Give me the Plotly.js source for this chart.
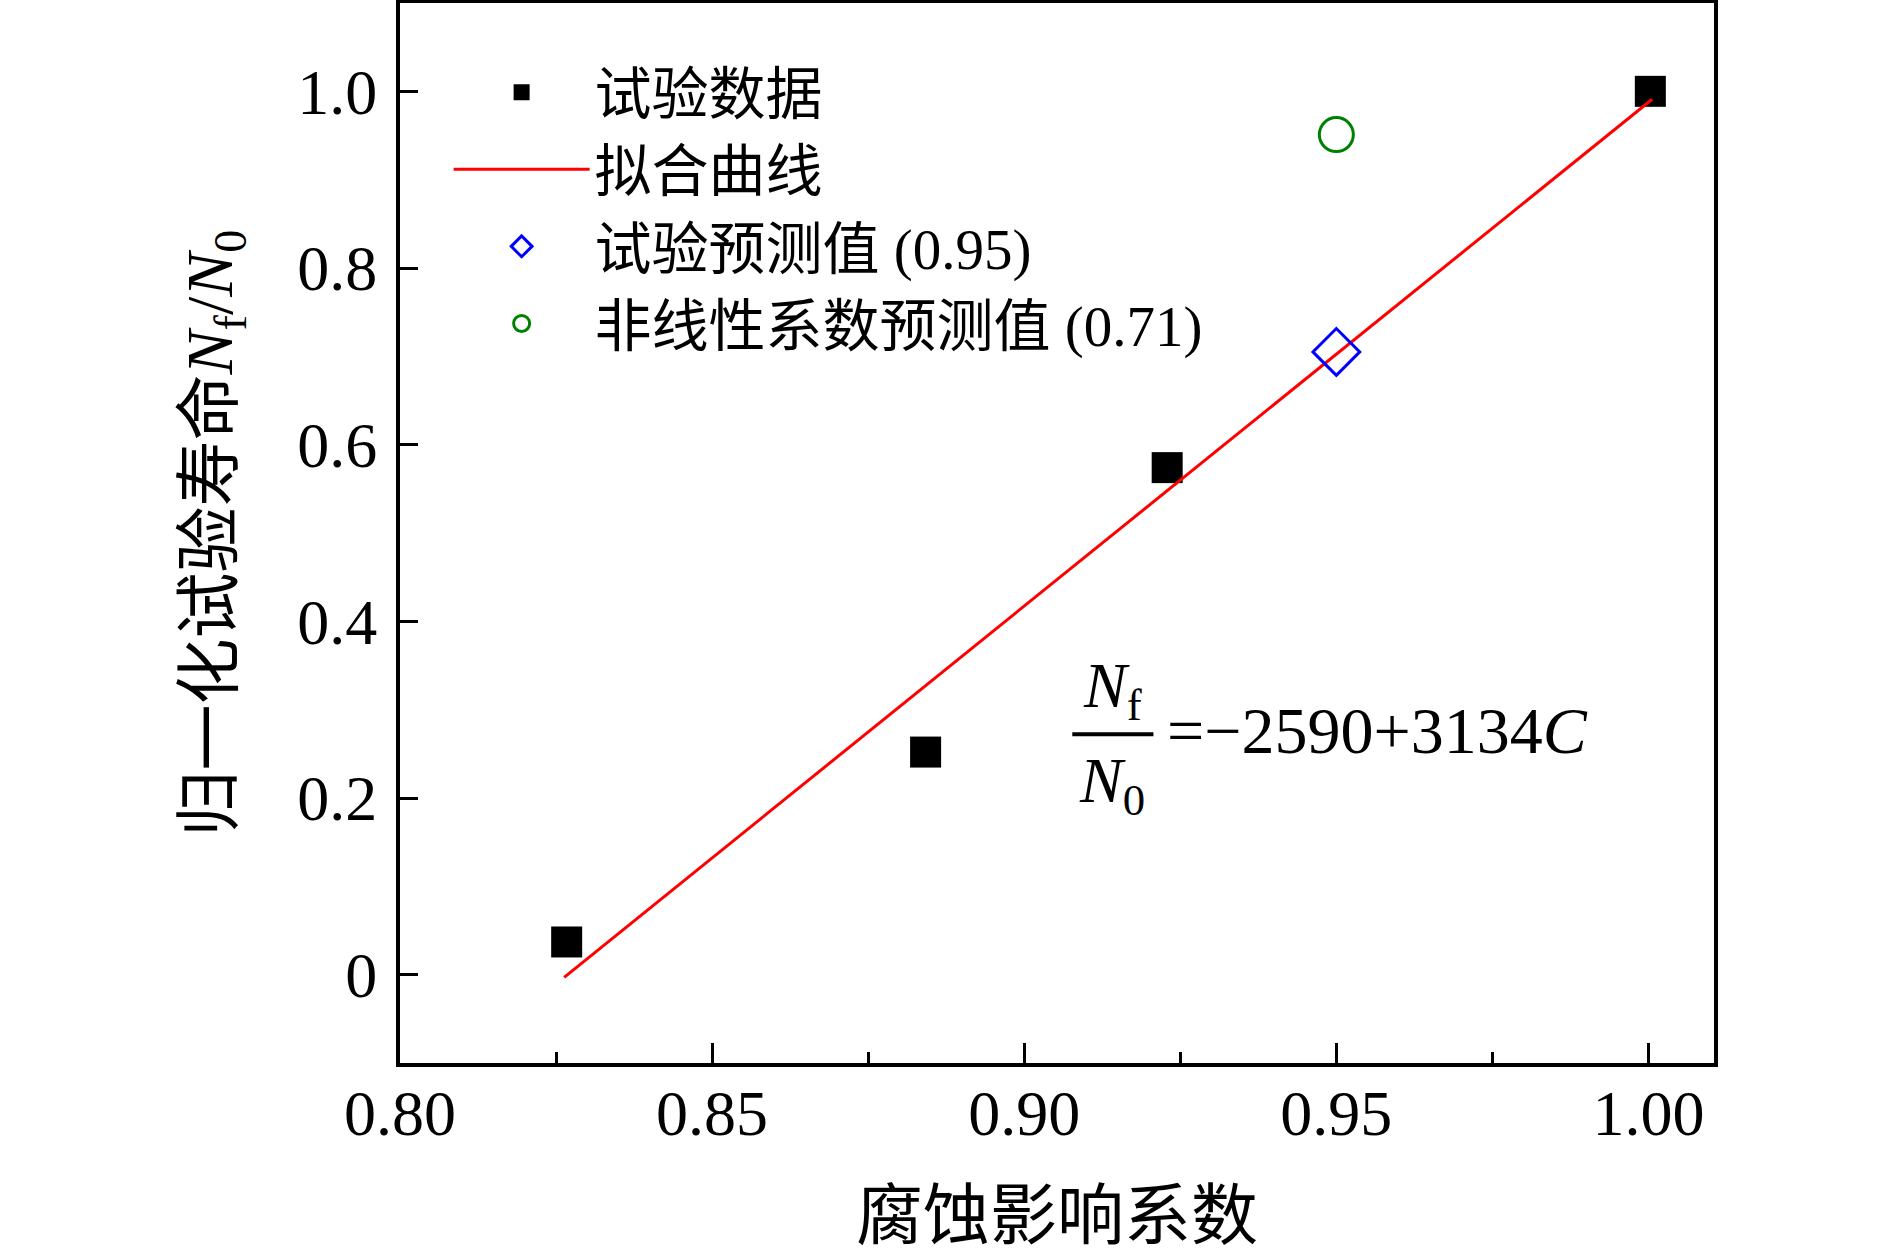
<!DOCTYPE html>
<html>
<head>
<meta charset="utf-8">
<script src="https://cdn.plot.ly/plotly-3.0.1.min.js"></script>
<style>
  html, body { margin: 0; padding: 0; background: #fff; }
  #plot { width: 1890px; height: 1257px; }
</style>
</head>
<body>
<div id="plot"></div>
<script>
// test data (corrosion factor vs normalised life)
var testX = [0.8267, 0.8842, 0.9229, 1.0003];
var testY = [0.037, 0.252, 0.574, 1.0];

// fitted line end points
var fitX = [0.8263, 1.0006];
var fitY = [-0.003, 0.991];

// predictions at C = 0.95
var predX = [0.95];
var predY = [0.705];
var nonlinX = [0.95];
var nonlinY = [0.951];

var yTickVals = [0, 0.2, 0.4, 0.6, 0.8, 1.0];
var yTickText = ['0', '0.2', '0.4', '0.6', '0.8', '1.0'];

var serif = 'Liberation Serif, Times New Roman, Noto Sans CJK SC, serif';
var cjk = 'Liberation Serif, Noto Sans CJK SC, sans-serif';

var data = [
  {
    x: testX, y: testY,
    mode: 'markers',
    name: '试验数据',
    type: 'scatter',
    marker: { symbol: 'square', size: 31, color: '#000000' }
  },
  {
    x: fitX, y: fitY,
    mode: 'lines',
    name: '拟合曲线',
    type: 'scatter',
    line: { color: '#ff0000', width: 3 }
  },
  {
    x: predX, y: predY,
    mode: 'markers',
    name: '试验预测值 (0.95)',
    type: 'scatter',
    marker: { symbol: 'diamond-open', size: 36, color: '#0000ff', line: { width: 3, color: '#0000ff' } }
  },
  {
    x: nonlinX, y: nonlinY,
    mode: 'markers',
    name: '非线性系数预测值 (0.71)',
    type: 'scatter',
    marker: { symbol: 'circle-open', size: 34, color: '#008000', line: { width: 3, color: '#008000' } }
  }
];

var layout = {
  width: 1890,
  height: 1257,
  paper_bgcolor: '#ffffff',
  plot_bgcolor: '#ffffff',
  margin: { l: 400, r: 176, t: 3, b: 194 },
  showlegend: true,
  legend: {
    x: 0.037, y: 0.957, xanchor: 'left', yanchor: 'top',
    bgcolor: 'rgba(0,0,0,0)',
    borderwidth: 0,
    itemwidth: 136,
    font: { family: cjk, size: 57, color: '#000' }
  },
  xaxis: {
    range: [0.8, 1.0105],
    tickmode: 'linear', tick0: 0.8, dtick: 0.05, tickformat: '.2f',
    ticks: 'inside', ticklen: 20, tickwidth: 3, tickcolor: '#000',
    minor: { ticks: 'inside', ticklen: 11, tickwidth: 3, tickcolor: '#000', dtick: 0.025, tick0: 0.8, showgrid: false },
    showline: true, linewidth: 4, linecolor: '#000', mirror: true,
    showgrid: false, zeroline: false,
    tickfont: { family: serif, size: 64, color: '#000' },
    ticklabelstandoff: -9,
    title: { text: '腐蚀影响系数', font: { family: cjk, size: 67, color: '#000' }, standoff: 45 }
  },
  yaxis: {
    range: [-0.1, 1.1],
    tickmode: 'array', tickvals: yTickVals, ticktext: yTickText,
    ticks: 'inside', ticklen: 18, tickwidth: 3, tickcolor: '#000',
    showline: true, linewidth: 4, linecolor: '#000', mirror: true,
    showgrid: false, zeroline: false,
    tickfont: { family: serif, size: 64, color: '#000' },
    ticklabelstandoff: 6,
    title: { text: '归一化试验寿命<i>N</i><sub>f</sub>/<i>N</i><sub>0</sub>', font: { family: cjk, size: 66, color: '#000' }, standoff: 44 }
  },
  annotations: [
    { xref: 'x', yref: 'y', x: 0.9141, y: 0.322, text: '<i>N</i><sub>f</sub>', showarrow: false,
      font: { family: serif, size: 64, color: '#000' }, xanchor: 'center', yanchor: 'middle' },
    { xref: 'x', yref: 'y', x: 0.9141, y: 0.215, text: '<i>N</i><sub>0</sub>', showarrow: false,
      font: { family: serif, size: 64, color: '#000' }, xanchor: 'center', yanchor: 'middle' },
    { xref: 'x', yref: 'y', x: 0.9225, y: 0.276, text: '=−2590+3134<i>C</i>', showarrow: false,
      font: { family: serif, size: 66, color: '#000' }, xanchor: 'left', yanchor: 'middle' }
  ],
  shapes: [
    { type: 'line', xref: 'x', yref: 'y', x0: 0.9077, x1: 0.9207, y0: 0.2722, y1: 0.2722,
      line: { color: '#000', width: 4 } }
  ]
};

Plotly.newPlot('plot', data, layout, { displayModeBar: false, staticPlot: true });
</script>
</body>
</html>
